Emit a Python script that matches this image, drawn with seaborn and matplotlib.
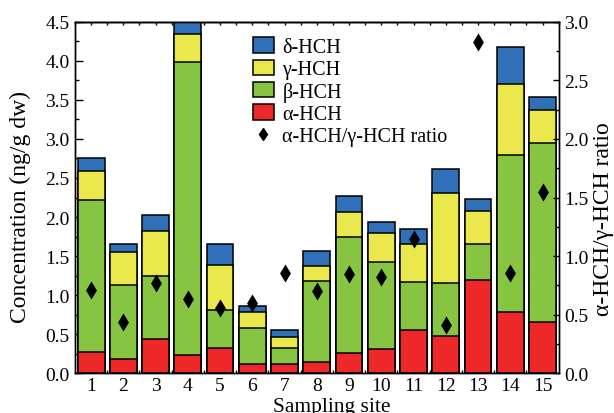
import numpy as np
import pandas as pd
import matplotlib
matplotlib.use("Agg")
import matplotlib.pyplot as plt
from matplotlib.ticker import MultipleLocator, FixedLocator, FormatStrFormatter, NullFormatter
from matplotlib.patches import Patch
from matplotlib.lines import Line2D
import seaborn as sns

# ---- data ----
sites = list(range(1, 16))
alpha_hch = [0.27, 0.18, 0.44, 0.23, 0.32, 0.12, 0.12, 0.14, 0.26, 0.31, 0.55, 0.48, 1.20, 0.78, 0.66]
beta_hch  = [1.95, 0.95, 0.81, 3.76, 0.49, 0.46, 0.21, 1.04, 1.49, 1.12, 0.62, 0.68, 0.46, 2.02, 2.29]
gamma_hch = [0.37, 0.42, 0.57, 0.35, 0.57, 0.20, 0.14, 0.19, 0.31, 0.37, 0.48, 1.15, 0.42, 0.90, 0.42]
delta_hch = [0.17, 0.11, 0.21, 0.16, 0.27, 0.08, 0.09, 0.19, 0.21, 0.14, 0.20, 0.31, 0.15, 0.47, 0.16]
ratio     = [0.71, 0.44, 0.77, 0.63, 0.56, 0.60, 0.86, 0.70, 0.85, 0.82, 1.15, 0.41, 2.83, 0.86, 1.55]

series_names = ["δ-HCH", "γ-HCH", "β-HCH", "α-HCH"]
ratio_name = "α-HCH/γ-HCH ratio"
colors = {"δ-HCH": "#3070B8", "γ-HCH": "#EAE84C", "β-HCH": "#86C442", "α-HCH": "#EE2828"}

# ---- style ----
sns.set_style("ticks")
plt.rcParams["font.family"] = ["Liberation Serif", "DejaVu Serif"]
plt.rcParams["axes.linewidth"] = 1.0
for k in ["text.color", "axes.labelcolor", "xtick.color", "ytick.color", "axes.edgecolor"]:
    plt.rcParams[k] = "black"

df = pd.DataFrame({"site": sites, "α-HCH": alpha_hch, "β-HCH": beta_hch,
                   "γ-HCH": gamma_hch, "δ-HCH": delta_hch, "ratio": ratio})
df["c_a"] = df["α-HCH"]
df["c_b"] = df["c_a"] + df["β-HCH"]
df["c_g"] = df["c_b"] + df["γ-HCH"]
df["c_d"] = df["c_g"] + df["δ-HCH"]

fig = plt.figure(figsize=(6.14, 4.14), dpi=100)
ax = fig.add_axes([75 / 614, 1 - 374.3 / 414, 483.7 / 614, 351.6 / 414])

for col, name in [("c_d", "δ-HCH"), ("c_g", "γ-HCH"), ("c_b", "β-HCH"), ("c_a", "α-HCH")]:
    sns.barplot(data=df, x="site", y=col, native_scale=True, width=0.83,
                color=colors[name], saturation=1, edgecolor="black", linewidth=1.1,
                errorbar=None, ax=ax)

ax.set_xlim(0.5, 15.5)
ax.set_ylim(0, 4.5)
ax.xaxis.set_major_locator(FixedLocator(sites))
ax.set_xticklabels([str(s) for s in sites])
ax.xaxis.set_minor_locator(FixedLocator(np.arange(1.5, 15, 1)))
ax.yaxis.set_major_locator(MultipleLocator(0.5))
ax.yaxis.set_minor_locator(MultipleLocator(0.25))
ax.yaxis.set_major_formatter(FormatStrFormatter("%.1f"))
ax.tick_params(axis="y", which="major", direction="in", length=6, width=1, labelsize=14, pad=4, right=False)
ax.tick_params(axis="y", which="minor", direction="in", length=3, width=1, right=False)
ax.tick_params(axis="x", which="major", direction="in", length=9, width=1, labelsize=14, pad=3, top=False)
ax.tick_params(axis="x", which="minor", direction="in", length=2, width=1, top=False)
for sp in ax.spines.values():
    sp.set_visible(True)
    sp.set_color("black")
    sp.set_linewidth(1.0)

sec = ax.secondary_xaxis("top")
sec.set_xticks(np.arange(0.5, 15.6, 0.5))
sec.tick_params(direction="in", length=2, width=1, labelsize=0)
sec.xaxis.set_major_formatter(NullFormatter())

ax.set_ylabel("Concentration (ng/g dw)", fontsize=17, va="center")
ax.yaxis.set_label_coords(-0.112, 0.477)
ax.set_xlabel("Sampling site", fontsize=15.5, va="top")
ax.xaxis.set_label_coords(0.531, -0.066)

ax2 = ax.twinx()
sns.scatterplot(data=df, x="site", y="ratio", marker="d", color="black",
                s=85, linewidth=0, ax=ax2, zorder=5)
ax2.set_xlim(0.5, 15.5)
ax2.set_ylim(0, 3.0)
ax2.yaxis.set_major_locator(MultipleLocator(0.5))
ax2.yaxis.set_minor_locator(MultipleLocator(0.25))
ax2.yaxis.set_major_formatter(FormatStrFormatter("%.1f"))
ax2.tick_params(axis="y", which="major", direction="in", length=4.5, width=1, labelsize=14, pad=4)
ax2.tick_params(axis="y", which="minor", direction="in", length=2, width=1)
ax2.set_ylabel(ratio_name, fontsize=17, rotation=90, va="center")
ax2.yaxis.set_label_coords(1.092, 0.442)
ax2.set_xlabel("")

handles = [Patch(facecolor=colors[n], edgecolor="black", linewidth=1.1, label=n) for n in series_names]
handles.append(Line2D([], [], marker="d", color="black", linestyle="none", markersize=6.5, label=ratio_name))
ax2.legend(handles=handles, loc="upper left", bbox_to_anchor=(0.351, 0.978), frameon=False,
           fontsize=14.5, handlelength=1.05, handleheight=0.8, handletextpad=0.42,
           labelspacing=0.12, borderpad=0.4, borderaxespad=0)

fig.savefig("out.png", dpi=100)
